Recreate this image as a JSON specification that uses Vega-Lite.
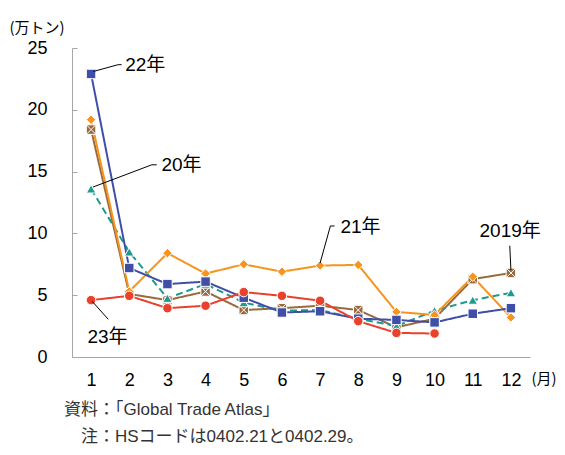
{
  "$schema": "https://vega.github.io/schema/vega-lite/v6.json",
  "width": 458,
  "height": 309,
  "autosize": {"type": "none"},
  "padding": {"left": 72, "top": 48, "right": 35, "bottom": 98},
  "background": "white",
  "config": {
    "view": {"stroke": null},
    "font": "Liberation Sans, Noto Sans CJK JP, sans-serif",
    "axis": {"grid": false, "domainColor": "#a6a6a6", "tickColor": "#a6a6a6", "labelColor": "#000000", "labelFont": "Liberation Sans, Noto Sans CJK JP, sans-serif", "labelFontSize": 18, "titleFont": "Noto Sans CJK JP, sans-serif", "titleFontWeight": "normal", "titleColor": "#000000"}
  },
  "title": {
    "text": ["資料：「Global Trade Atlas」", "\u200b　注：HSコードは0402.21と0402.29。"],
    "orient": "bottom",
    "anchor": "start",
    "frame": "group",
    "font": "Liberation Sans, Noto Sans CJK JP, sans-serif",
    "fontSize": 17,
    "fontWeight": "normal",
    "color": "#333333",
    "lineHeight": 27,
    "offset": 13,
    "dx": -8
  },
  "datasets": {
    "series": [
      {"year": "2019年", "month": 1, "value": 18.4},
      {"year": "2019年", "month": 2, "value": 5.1},
      {"year": "2019年", "month": 3, "value": 4.6},
      {"year": "2019年", "month": 4, "value": 5.3},
      {"year": "2019年", "month": 5, "value": 3.8},
      {"year": "2019年", "month": 6, "value": 3.95},
      {"year": "2019年", "month": 7, "value": 4.15},
      {"year": "2019年", "month": 8, "value": 3.8},
      {"year": "2019年", "month": 9, "value": 2.4},
      {"year": "2019年", "month": 10, "value": 3.1},
      {"year": "2019年", "month": 11, "value": 6.3},
      {"year": "2019年", "month": 12, "value": 6.8},
      {"year": "20年", "month": 1, "value": 13.6},
      {"year": "20年", "month": 2, "value": 8.5},
      {"year": "20年", "month": 3, "value": 4.75},
      {"year": "20年", "month": 4, "value": 5.9},
      {"year": "20年", "month": 5, "value": 4.4},
      {"year": "20年", "month": 6, "value": 3.75},
      {"year": "20年", "month": 7, "value": 3.8},
      {"year": "20年", "month": 8, "value": 3.1},
      {"year": "20年", "month": 9, "value": 2.5},
      {"year": "20年", "month": 10, "value": 3.75},
      {"year": "20年", "month": 11, "value": 4.6},
      {"year": "20年", "month": 12, "value": 5.2},
      {"year": "21年", "month": 1, "value": 19.2},
      {"year": "21年", "month": 2, "value": 5.3},
      {"year": "21年", "month": 3, "value": 8.4},
      {"year": "21年", "month": 4, "value": 6.75},
      {"year": "21年", "month": 5, "value": 7.5},
      {"year": "21年", "month": 6, "value": 6.9},
      {"year": "21年", "month": 7, "value": 7.4},
      {"year": "21年", "month": 8, "value": 7.45},
      {"year": "21年", "month": 9, "value": 3.65},
      {"year": "21年", "month": 10, "value": 3.4},
      {"year": "21年", "month": 11, "value": 6.5},
      {"year": "21年", "month": 12, "value": 3.2},
      {"year": "22年", "month": 1, "value": 22.9},
      {"year": "22年", "month": 2, "value": 7.2},
      {"year": "22年", "month": 3, "value": 5.9},
      {"year": "22年", "month": 4, "value": 6.1},
      {"year": "22年", "month": 5, "value": 4.8},
      {"year": "22年", "month": 6, "value": 3.6},
      {"year": "22年", "month": 7, "value": 3.7},
      {"year": "22年", "month": 8, "value": 3.1},
      {"year": "22年", "month": 9, "value": 3.0},
      {"year": "22年", "month": 10, "value": 2.8},
      {"year": "22年", "month": 11, "value": 3.5},
      {"year": "22年", "month": 12, "value": 3.95},
      {"year": "23年", "month": 1, "value": 4.6},
      {"year": "23年", "month": 2, "value": 4.95},
      {"year": "23年", "month": 3, "value": 3.95},
      {"year": "23年", "month": 4, "value": 4.15},
      {"year": "23年", "month": 5, "value": 5.25},
      {"year": "23年", "month": 6, "value": 4.95},
      {"year": "23年", "month": 7, "value": 4.55},
      {"year": "23年", "month": 8, "value": 2.9},
      {"year": "23年", "month": 9, "value": 1.95},
      {"year": "23年", "month": 10, "value": 1.9}
    ],
    "labels": [
      {"label": "22年", "month": 2.42, "value": 23.6},
      {"label": "20年", "month": 3.37, "value": 15.5},
      {"label": "21年", "month": 8.06, "value": 10.55},
      {"label": "2019年", "month": 11.98, "value": 10.2},
      {"label": "23年", "month": 1.43, "value": 1.6}
    ],
    "leaders": [
      {"x": 1.06, "y": 23.1, "x2": 1.71, "y2": 23.65},
      {"x": 1.71, "y": 23.65, "x2": 1.8, "y2": 23.65},
      {"x": 1.05, "y": 13.75, "x2": 2.59, "y2": 15.55},
      {"x": 2.59, "y": 15.55, "x2": 2.72, "y2": 15.55},
      {"x": 7.0, "y": 7.6, "x2": 7.27, "y2": 10.6},
      {"x": 7.27, "y": 10.6, "x2": 7.38, "y2": 10.6},
      {"x": 11.97, "y": 9.0, "x2": 12.0, "y2": 7.05},
      {"x": 1.03, "y": 4.5, "x2": 1.45, "y2": 3.05}
    ]
  },
  "layer": [
    {
      "data": {"name": "series"},
      "mark": {"type": "line", "strokeWidth": 2},
      "encoding": {
        "x": {"field": "month", "type": "quantitative", "scale": {"domain": [0.5, 12.5], "nice": false, "zero": false},
              "axis": {"values": [1,2,3,4,5,6,7,8,9,10,11,12], "format": "d", "ticks": false, "labelPadding": 14, "labelFlush": false,
                       "title": "(月)", "titleFontSize": 15, "titleAngle": 0, "titleAlign": "left", "titleBaseline": "middle", "titleX": 459, "titleY": 21}},
        "y": {"field": "value", "type": "quantitative", "scale": {"domain": [0, 25], "nice": false},
              "axis": {"values": [0,5,10,15,20,25], "tickSize": -5, "labelPadding": 30, "labelFlush": false,
                       "title": "(万トン)", "titleFontSize": 15, "titleAngle": 0, "titleAlign": "left", "titleBaseline": "middle", "titleX": -63, "titleY": -21}},
        "color": {"field": "year", "type": "nominal", "legend": null,
                  "scale": {"domain": ["2019年", "20年", "21年", "22年", "23年"], "range": ["#9a6a3c", "#1f9a8e", "#f7941d", "#3f4fa8", "#e8412c"]}},
        "strokeDash": {"field": "year", "type": "nominal", "legend": null,
                       "scale": {"domain": ["2019年", "20年", "21年", "22年", "23年"], "range": [[1, 0], [7, 4], [1, 0], [1, 0], [1, 0]]}}
      }
    },
    {
      "data": {"name": "series"},
      "mark": {"type": "point", "filled": true, "opacity": 1, "stroke": "white", "strokeWidth": 1},
      "encoding": {
        "x": {"field": "month", "type": "quantitative"},
        "y": {"field": "value", "type": "quantitative"},
        "color": {"field": "year", "type": "nominal", "legend": null},
        "shape": {"field": "year", "type": "nominal", "legend": null,
                  "scale": {"domain": ["2019年", "20年", "21年", "22年", "23年"], "range": ["M-1,-1H1V1H-1Z M-1,-1L1,1 M-1,1L1,-1", "triangle-up", "diamond", "square", "circle"]}},
        "size": {"field": "year", "type": "nominal", "legend": null,
                 "scale": {"domain": ["2019年", "20年", "21年", "22年", "23年"], "range": [90, 90, 90, 80, 110]}}
      }
    },
    {
      "data": {"name": "leaders"},
      "mark": {"type": "rule", "color": "#000000", "strokeWidth": 1},
      "encoding": {
        "x": {"field": "x", "type": "quantitative"},
        "y": {"field": "y", "type": "quantitative"},
        "x2": {"field": "x2"},
        "y2": {"field": "y2"}
      }
    },
    {
      "data": {"name": "labels"},
      "mark": {"type": "text", "fontSize": 19, "font": "Liberation Sans, Noto Sans CJK JP, sans-serif", "baseline": "middle", "align": "center", "color": "#000000"},
      "encoding": {
        "x": {"field": "month", "type": "quantitative"},
        "y": {"field": "value", "type": "quantitative"},
        "text": {"field": "label"}
      }
    }
  ]
}
